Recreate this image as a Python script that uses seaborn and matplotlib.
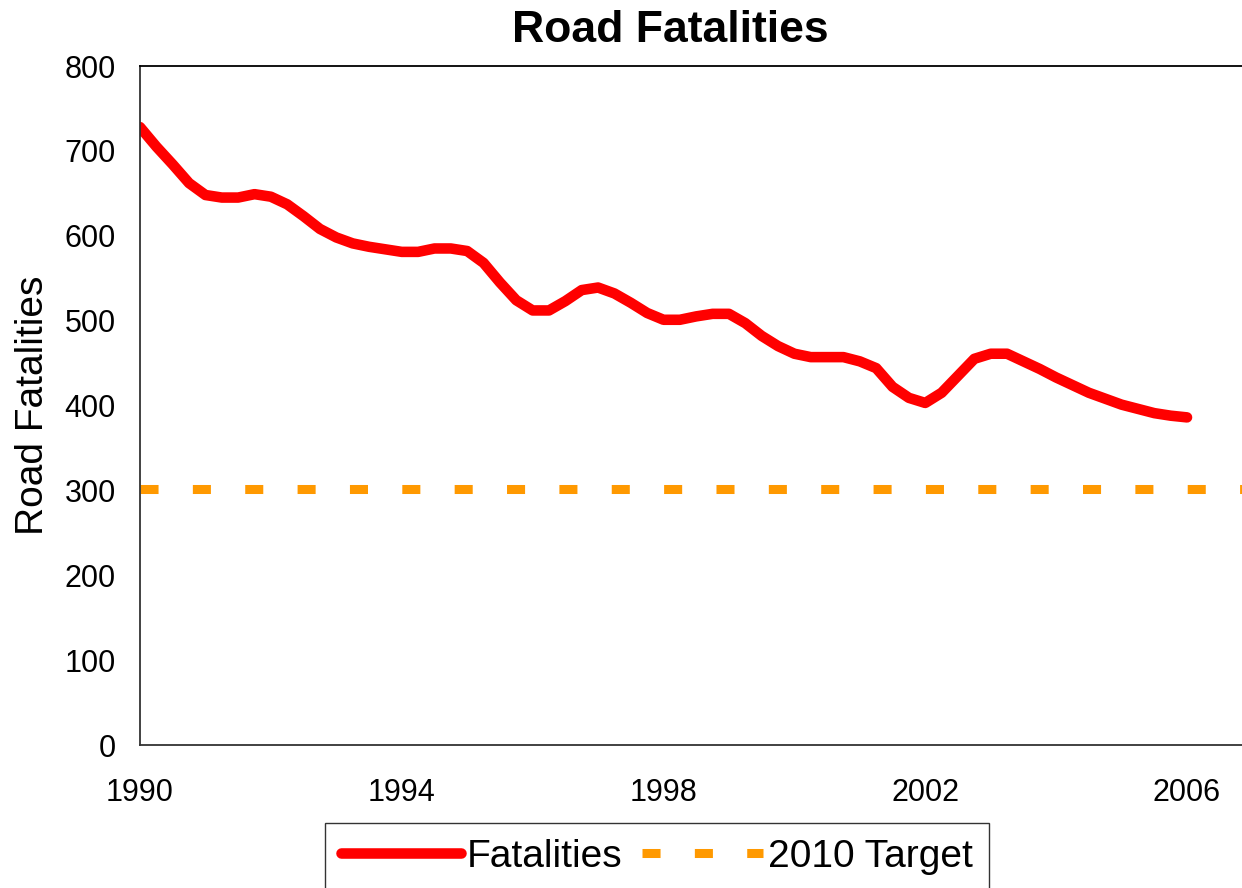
import numpy as np
import pandas as pd
import seaborn as sns
import matplotlib.pyplot as plt

# quarterly road fatalities, 1990 Q1 .. 2006 Q1
start_year = 1990
fatalities = [728, 705, 684, 662, 648, 645, 645, 649, 646, 637,
              623, 608, 598, 591, 587, 584, 581, 581, 585, 585,
              582, 568, 545, 524, 512, 512, 523, 536, 539, 532,
              521, 509, 501, 501, 505, 508, 508, 497, 482, 470,
              461, 457, 457, 457, 452, 444, 422, 409, 403, 415,
              435, 455, 461, 461, 452, 443, 433, 424, 415, 408,
              401, 396, 391, 388, 386]
target_2010 = 302
year_ticks = [1990, 1994, 1998, 2002, 2006]
y_ticks = [0, 100, 200, 300, 400, 500, 600, 700, 800]

df = pd.DataFrame({
    "year": start_year + np.arange(len(fatalities)) / 4,
    "fatalities": fatalities,
})

sns.set_style("white")
plt.rcParams['font.family'] = ['Liberation Sans', 'DejaVu Sans']
plt.rcParams['text.color'] = 'black'
plt.rcParams['axes.labelcolor'] = 'black'
plt.rcParams['xtick.color'] = 'black'
plt.rcParams['ytick.color'] = 'black'

fig = plt.figure(figsize=(12.42, 8.88), dpi=100)
ax = fig.add_axes([140/1242, 1 - 745/888, 1 - 140/1242, (745 - 66)/888])

sns.lineplot(data=df, x="year", y="fatalities", ax=ax, color="#FF0000",
             linewidth=7.6, solid_capstyle="round", solid_joinstyle="round",
             label="Fatalities")
ax.axhline(target_2010, color="#FF9900", linewidth=6.5, dashes=(2.0, 3.8),
           dash_capstyle="butt", label="2010 Target")

ax.set_xlim(1990, 2006.84)
ax.set_ylim(0, 800)
ax.set_xticks(year_ticks)
ax.set_xticklabels([str(y) for y in year_ticks])
ax.set_yticks(y_ticks)
ax.tick_params(axis="both", direction="out", length=6.5, width=1.2,
               color="#333333", labelsize=22)
ax.tick_params(axis="x", pad=17)
ax.tick_params(axis="y", pad=11)
ax.set_xlabel("")
ax.set_ylabel("Road Fatalities", fontsize=28)
ax.yaxis.set_label_coords(-89/1102, 0.5)

for side in ["left", "bottom", "top"]:
    ax.spines[side].set_visible(True)
    ax.spines[side].set_color("#333333")
    ax.spines[side].set_linewidth(1.3)
ax.spines["top"].set_color("black")
ax.spines["right"].set_visible(False)

fig.text(670/1242, 1 - 31/888, "Road Fatalities", ha="center", va="center",
         fontsize=32, fontweight="bold")

ax.get_legend().remove()
handles, labels = ax.get_legend_handles_labels()
leg = fig.legend(handles, labels, loc="upper center", ncol=2,
                 bbox_to_anchor=(657/1242, 1 - 823/888), fontsize=28,
                 frameon=True, fancybox=False, edgecolor="black",
                 handlelength=3.1, handletextpad=0.15, columnspacing=0.5,
                 borderpad=0.4, borderaxespad=0)
leg.get_frame().set_linewidth(1.0)

fig.savefig("out.png", dpi=100)
